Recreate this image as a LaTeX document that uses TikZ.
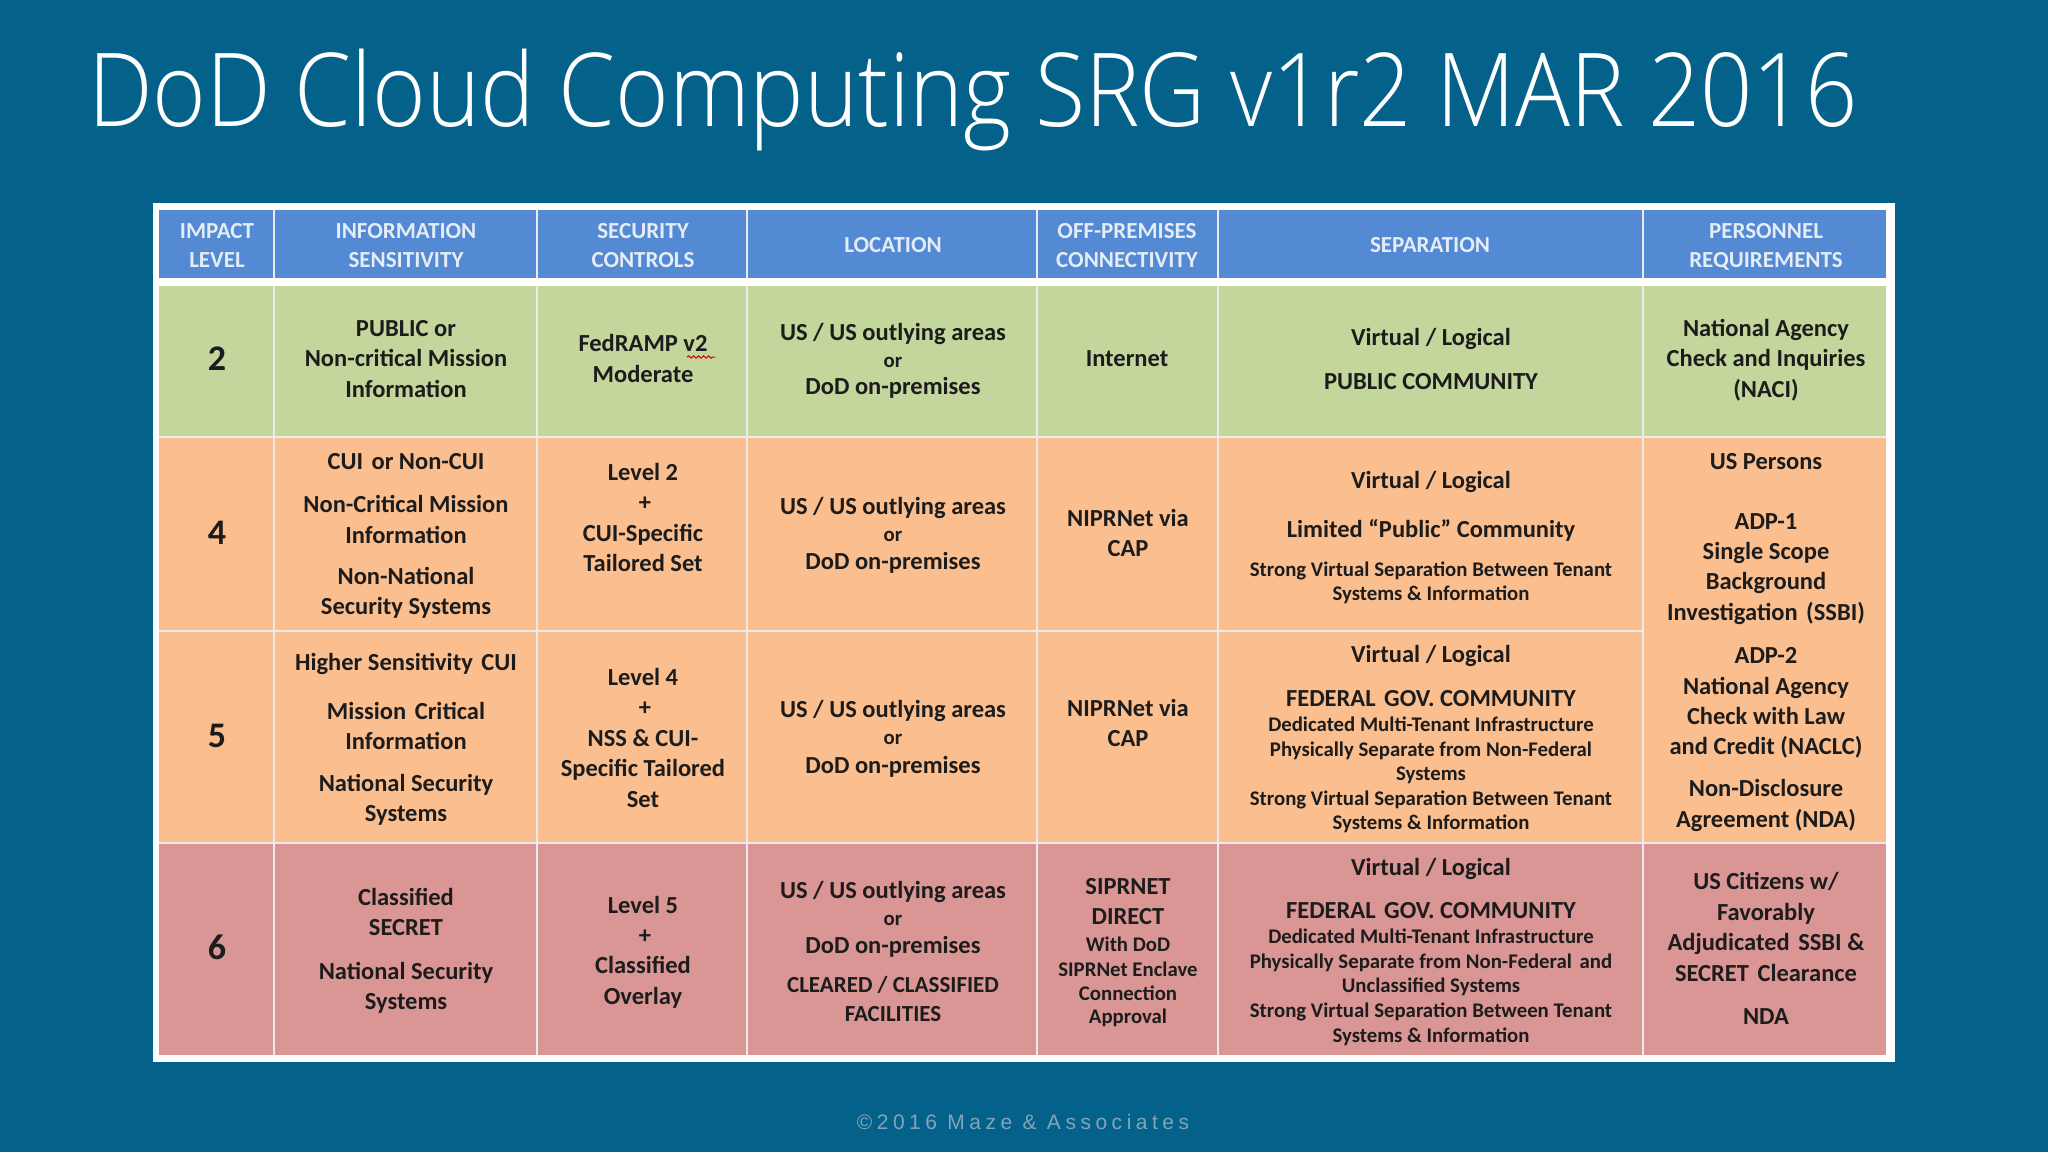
\documentclass[tikz,border=0pt]{standalone}
\usepackage{fontspec}
\setmainfont{Carlito}
\newfontfamily\titlefont[UprightFont={* Light}]{Open Sans}
\newfontfamily\footfont[LetterSpace=21.5]{Liberation Sans}
\usetikzlibrary{decorations.pathmorphing}
\definecolor{pagebg}{HTML}{03618A}
\definecolor{headblue}{HTML}{5489D4}
\definecolor{rowgreen}{HTML}{C3D69B}
\definecolor{roworange}{HTML}{FBBF8F}
\definecolor{rowred}{HTML}{D99694}
\definecolor{inkdark}{HTML}{1C1C1C}
\definecolor{headink}{HTML}{E4ECF6}
\definecolor{footink}{HTML}{82A5BA}
\newcommand\dsp{\kern3pt\ }
\tikzset{
  x=1pt,y=-1pt,
  base/.style={anchor=base,inner sep=0pt,outer sep=0pt,text=inkdark},
  txt/.style={base,font=\fontsize{24.5}{24.5}\selectfont\bfseries},
  captxt/.style={base,font=\fontsize{23}{23}\selectfont\bfseries},
  sml/.style={base,font=\fontsize{20.8}{21}\selectfont\bfseries},
  lvl/.style={base,font=\fontsize{36}{36}\selectfont\bfseries},
  hdr/.style={base,text=headink,font=\fontsize{23}{23}\selectfont\bfseries},
  rule/.style={white!92!black,line width=2.4pt},
}
\newcommand\cellline[5][txt]{\node[#1] (#2) at (#3,#4) {#5};}
\begin{document}
\begin{tikzpicture}
\useasboundingbox (0,0) rectangle (2048,1152);
\fill[pagebg] (0,0) rectangle (2048,1152);
\node[anchor=base west,inner sep=0pt,text=white,xscale=0.898,font=\fontsize{102}{102}\selectfont\titlefont] (title) at (88,126) {DoD Cloud Computing SRG v1r2 MAR 2016};
% table frame and bands
\fill[white] (153,203) rectangle (1895,1062);
\fill[headblue] (159,210) rectangle (1886,278);
\fill[rowgreen] (159,286) rectangle (1886,437);
\fill[roworange] (159,437) rectangle (1886,843);
\fill[rowred] (159,843) rectangle (1886,1055);
% rules
\foreach \cx in {274,537,747,1037,1218,1643} {
  \draw[rule] (\cx,210) -- (\cx,278);
  \draw[rule] (\cx,286) -- (\cx,1055);
}
\draw[rule] (159,437) -- (1886,437);
\draw[rule] (159,631) -- (1643,631);
\draw[rule] (159,843) -- (1886,843);
% header
\cellline[hdr]{h1a}{217}{238}{IMPACT}
\cellline[hdr]{h1b}{217}{267}{LEVEL}
\cellline[hdr]{h2a}{406}{238}{INFORMATION}
\cellline[hdr]{h2b}{406}{267}{SENSITIVITY}
\cellline[hdr]{h3a}{643}{238}{SECURITY}
\cellline[hdr]{h3b}{643}{267}{CONTROLS}
\cellline[hdr]{h4}{893}{252}{LOCATION}
\cellline[hdr]{h5a}{1127}{238}{OFF-PREMISES}
\cellline[hdr]{h5b}{1127}{267}{CONNECTIVITY}
\cellline[hdr]{h6}{1430}{252}{SEPARATION}
\cellline[hdr]{h7a}{1766}{238}{PERSONNEL}
\cellline[hdr]{h7b}{1766}{267}{REQUIREMENTS}
% impact levels
\cellline[lvl]{l2}{217}{370}{2}
\cellline[lvl]{l4}{217}{544}{4}
\cellline[lvl]{l5}{217}{747}{5}
\cellline[lvl]{l6}{217}{959}{6}
% information sensitivity
\cellline{s2a}{406}{336}{PUBLIC or}
\cellline{s2b}{406}{366}{Non-critical Mission}
\cellline{s2c}{406}{397}{Information}
\cellline{s4a}{406}{469}{CUI\dsp or Non-CUI}
\cellline{s4b}{406}{512}{Non-Critical Mission}
\cellline{s4c}{406}{543}{Information}
\cellline{s4d}{406}{584}{Non-National}
\cellline{s4e}{406}{614}{Security Systems}
\cellline{s5a}{406}{670}{Higher Sensitivity\dsp CUI}
\cellline{s5b}{406}{719}{Mission\dsp Critical}
\cellline{s5c}{406}{749}{Information}
\cellline{s5d}{406}{791}{National Security}
\cellline{s5e}{406}{821}{Systems}
\cellline{s6a}{406}{905}{Classified}
\cellline{s6b}{406}{935}{SECRET}
\cellline{s6c}{406}{979}{National Security}
\cellline{s6d}{406}{1009}{Systems}
% security controls
\cellline{c2a}{643}{351}{FedRAMP v2}
\cellline{c2b}{643}{382}{Moderate}
\coordinate (sqa) at (687,357);
\coordinate (sqb) at (715,357);
\draw[red!85!black,line width=1pt,decorate,decoration={snake,amplitude=1.2pt,segment length=5pt}] (sqa) -- (sqb);
\cellline{c4a}{643}{480}{Level 2}
\cellline{c4b}{645}{510}{+}
\cellline{c4c}{643}{541}{CUI-Specific}
\cellline{c4d}{643}{571}{Tailored Set}
\cellline{c5a}{643}{685}{Level 4}
\cellline{c5b}{645}{715}{+}
\cellline{c5c}{643}{746}{NSS \& CUI-}
\cellline{c5d}{643}{776}{Specific Tailored}
\cellline{c5e}{643}{807}{Set}
\cellline{c6a}{643}{913}{Level 5}
\cellline{c6b}{645}{943}{+}
\cellline{c6c}{643}{973}{Classified}
\cellline{c6d}{643}{1004}{Overlay}
% location
\cellline{o2a}{893}{340}{US / US outlying areas}
\cellline[sml]{o2b}{893}{367}{or}
\cellline{o2c}{893}{394}{DoD on-premises}
\cellline{o4a}{893}{514}{US / US outlying areas}
\cellline[sml]{o4b}{893}{541}{or}
\cellline{o4c}{893}{569}{DoD on-premises}
\cellline{o5a}{893}{717}{US / US outlying areas}
\cellline[sml]{o5b}{893}{744}{or}
\cellline{o5c}{893}{773}{DoD on-premises}
\cellline{o6a}{893}{898}{US / US outlying areas}
\cellline[sml]{o6b}{893}{925}{or}
\cellline{o6c}{893}{953}{DoD on-premises}
\cellline[captxt]{o6d}{893}{992}{CLEARED / CLASSIFIED}
\cellline[captxt]{o6e}{893}{1021}{FACILITIES}
% off-premises connectivity
\cellline{n2}{1127}{366}{Internet}
\cellline{n4a}{1128}{526}{NIPRNet via}
\cellline{n4b}{1128}{556}{CAP}
\cellline{n5a}{1128}{716}{NIPRNet via}
\cellline{n5b}{1128}{746}{CAP}
\cellline{n6a}{1128}{894}{SIPRNET}
\cellline{n6b}{1128}{924}{DIRECT}
\cellline[sml]{n6c}{1128}{951}{With DoD}
\cellline[sml]{n6d}{1128}{976}{SIPRNet Enclave}
\cellline[sml]{n6e}{1128}{1000}{Connection}
\cellline[sml]{n6f}{1128}{1023}{Approval}
% separation
\cellline{p2a}{1431}{345}{Virtual / Logical}
\cellline{p2b}{1431}{389}{PUBLIC COMMUNITY}
\cellline{p4a}{1431}{488}{Virtual / Logical}
\cellline{p4b}{1431}{537}{Limited “Public” Community}
\cellline[sml]{p4c}{1431}{576}{Strong Virtual Separation Between Tenant}
\cellline[sml]{p4d}{1431}{600}{Systems \& Information}
\cellline{p5a}{1431}{662}{Virtual / Logical}
\cellline{p5b}{1431}{706}{FEDERAL\dsp GOV. COMMUNITY}
\cellline[sml]{p5c}{1431}{731}{Dedicated Multi-Tenant Infrastructure}
\cellline[sml]{p5d}{1431}{756}{Physically Separate from Non-Federal}
\cellline[sml]{p5e}{1431}{780}{Systems}
\cellline[sml]{p5f}{1431}{805}{Strong Virtual Separation Between Tenant}
\cellline[sml]{p5g}{1431}{829}{Systems \& Information}
\cellline{p6a}{1431}{875}{Virtual / Logical}
\cellline{p6b}{1431}{918}{FEDERAL\dsp GOV. COMMUNITY}
\cellline[sml]{p6c}{1431}{943}{Dedicated Multi-Tenant Infrastructure}
\cellline[sml]{p6d}{1431}{968}{Physically Separate from Non-Federal\dsp and}
\cellline[sml]{p6e}{1431}{992}{Unclassified Systems}
\cellline[sml]{p6f}{1431}{1017}{Strong Virtual Separation Between Tenant}
\cellline[sml]{p6g}{1431}{1042}{Systems \& Information}
% personnel
\cellline{r2a}{1766}{336}{National Agency}
\cellline{r2b}{1766}{366}{Check and Inquiries}
\cellline{r2c}{1766}{397}{(NACI)}
\cellline{r4a}{1766}{469}{US Persons}
\cellline{r4b}{1766}{529}{ADP-1}
\cellline{r4c}{1766}{559}{Single Scope}
\cellline{r4d}{1766}{589}{Background}
\cellline{r4e}{1766}{620}{Investigation\dsp (SSBI)}
\cellline{r5a}{1766}{663}{ADP-2}
\cellline{r5b}{1766}{694}{National Agency}
\cellline{r5c}{1766}{724}{Check with Law}
\cellline{r5d}{1766}{754}{and Credit (NACLC)}
\cellline{r5e}{1766}{796}{Non-Disclosure}
\cellline{r5f}{1766}{827}{Agreement (NDA)}
\cellline{r6a}{1766}{889}{US Citizens w/}
\cellline{r6b}{1766}{920}{Favorably}
\cellline{r6c}{1766}{950}{Adjudicated\dsp SSBI \&}
\cellline{r6d}{1766}{981}{SECRET\dsp Clearance}
\cellline{r6e}{1766}{1024}{NDA}
% footer
\node[base,text=footink,font=\fontsize{21}{21}\selectfont\footfont] (foot) at (1023,1129) {©2016 Maze \& Associates};
\end{tikzpicture}
\end{document}
